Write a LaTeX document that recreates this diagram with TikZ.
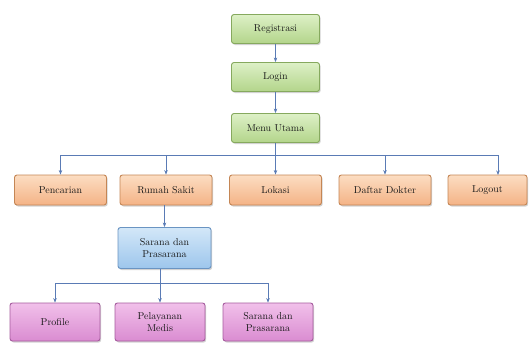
\documentclass[tikz,border=0pt]{standalone}
\usetikzlibrary{shadows,arrows.meta}
\definecolor{conn}{HTML}{5A7BB5}
\definecolor{gtop}{HTML}{DDF0C6}\definecolor{gbot}{HTML}{B3D58B}\definecolor{gdraw}{HTML}{86A95E}
\definecolor{otop}{HTML}{FCDDC2}\definecolor{obot}{HTML}{F4B386}\definecolor{odraw}{HTML}{C48655}
\definecolor{btop}{HTML}{D3E7F8}\definecolor{bbot}{HTML}{9DC6EC}\definecolor{bdraw}{HTML}{6A94C2}
\definecolor{ptop}{HTML}{F1C0EA}\definecolor{pbot}{HTML}{DA8CD1}\definecolor{pdraw}{HTML}{A65C9E}
\tikzset{
  box/.style={draw, rounded corners=2.5pt, line width=0.9pt, minimum width=88pt, minimum height=29pt,
    align=center, inner sep=2pt, text=black!90, font=\fontsize{10}{11.5}\selectfont,
    drop shadow={shadow xshift=1.2pt, shadow yshift=-1.5pt, opacity=0.35}},
  gbox/.style={box, draw=gdraw, top color=gtop, bottom color=gbot},
  obox/.style={box, draw=odraw, top color=otop, bottom color=obot, minimum width=92pt, minimum height=30pt},
  bbox/.style={box, draw=bdraw, top color=btop, bottom color=bbot, minimum width=93pt, minimum height=41pt},
  pbox/.style={box, draw=pdraw, top color=ptop, bottom color=pbot, minimum width=90pt, minimum height=38pt},
  link/.style={draw=conn, line width=0.6pt},
  arr/.style={link, -{Stealth[length=4.5pt,width=3.5pt]}},
}
\begin{document}
\begin{tikzpicture}[x=1pt,y=-1pt]
\useasboundingbox[fill=white] (0,0) rectangle (531,343);
% top chain
\node[gbox] (reg) at (275.5,29) {Registrasi};
\node[gbox] (login) at (275.5,77) {Login};
\node[gbox] (menu) at (275.5,128) {Menu Utama};
% orange row
\node[obox] (pen) at (60.5,190) {Pencarian};
\node[obox] (rs) at (166,190) {Rumah Sakit};
\node[obox] (lok) at (275.5,190) {Lokasi};
\node[obox] (daf) at (385,190) {Daftar Dokter};
\node[obox, minimum width=79pt] (out) at (487.5,190) {Logout};
% blue
\node[bbox] (sar) at (164.5,248) {Sarana dan\\Prasarana};
% pink
\node[pbox] (pro) at (55,322) {Profile};
\node[pbox] (pel) at (160,322) {Pelayanan\\Medis};
\node[pbox] (sar2) at (268,322) {Sarana dan\\Prasarana};
% connectors
\draw[arr] (reg.south) -- (login.north);
\draw[arr] (login.south) -- (menu.north);
\coordinate (bus) at (275.5,155);
\draw[link] (menu.south) -- (bus);
\draw[arr] (bus) -- (lok.north);
\coordinate (busL) at (60.5,155);
\coordinate (busR) at (498,155);
\draw[link] (busL) -- (busR);
\draw[arr] (busL) -- (pen.north);
\draw[arr] (rs.north |- bus) -- (rs.north);
\draw[arr] (daf.north |- bus) -- (daf.north);
\coordinate (outT) at (498,175);
\draw[arr] (busR) -- (outT);
\draw[arr] (rs.south -| sar.north) -- (sar.north);
\coordinate (bus2) at (160,283);
\draw[link] (sar.south -| bus2) -- (bus2);
\coordinate (bus2L) at (55,283);
\coordinate (bus2R) at (268,283);
\draw[link] (bus2L) -- (bus2R);
\draw[arr] (bus2L) -- (pro.north);
\draw[arr] (bus2) -- (pel.north);
\draw[arr] (bus2R) -- (sar2.north);
\end{tikzpicture}
\end{document}
